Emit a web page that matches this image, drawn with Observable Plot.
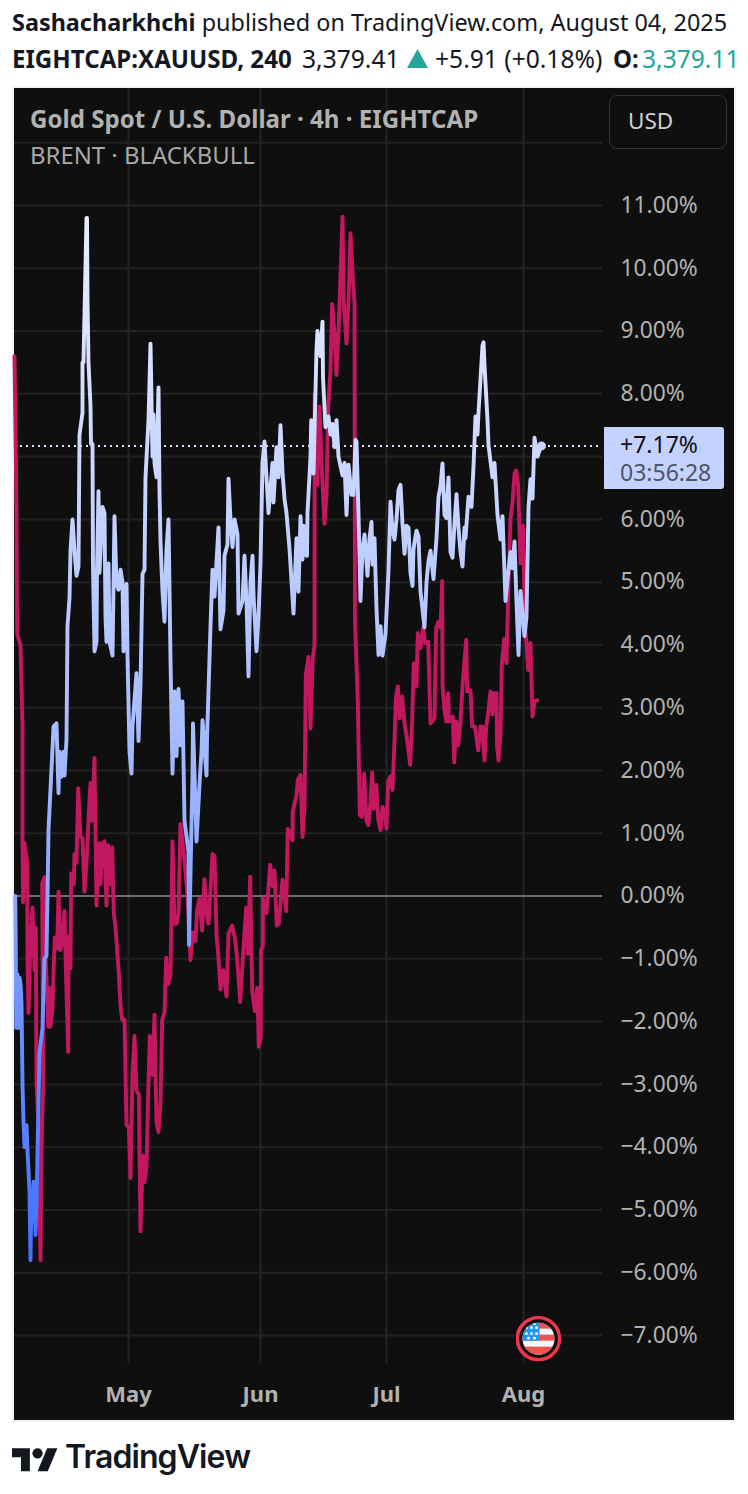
<!DOCTYPE html>
<html><head><meta charset="utf-8">
<script src="https://cdn.jsdelivr.net/npm/d3@7"></script>
<script src="https://cdn.jsdelivr.net/npm/@observablehq/plot@0.6"></script>
<style>
html,body{margin:0;padding:0;background:#fff;width:748px;height:1494px;overflow:hidden;font-family:"Noto Sans",sans-serif}
.t{position:absolute;white-space:nowrap;line-height:1;color:#131722}
#panel{position:absolute;left:12px;top:86px;width:720px;height:1332px;border:2px solid #f0f3fa;background:#0f0f0f}
#chart{position:absolute;left:14px;top:88px}
#chart svg{display:block;background:#0f0f0f}
</style></head><body>
<div class="t" style="left:12px;top:11px;font-size:23.4px"><b>Sashacharkhchi</b> published on TradingView.com, August 04, 2025</div>
<div class="t" style="left:12px;top:47px;font-size:24.1px;font-weight:700">EIGHTCAP:XAUUSD, 240</div>
<div class="t" style="left:302px;top:47px;font-size:24.6px">3,379.41</div>
<svg style="position:absolute;left:407px;top:49px" width="21" height="19"><polygon points="10.5,0 21,19 0,19" fill="#26a69a"/></svg>
<div class="t" style="left:435px;top:47px;font-size:24.6px">+5.91 (+0.18%)</div>
<div class="t" style="left:613px;top:47px;font-size:24.1px;font-weight:700">O:</div>
<div class="t" style="left:642px;top:47px;font-size:24.6px;color:#26a69a">3,379.11</div>
<div id="panel"></div>
<div id="chart"></div>
<div class="t" style="left:30px;top:107px;font-size:24.1px;font-weight:700;color:#b2b2b2">Gold Spot / U.S. Dollar · 4h · EIGHTCAP</div>
<div class="t" style="left:30px;top:143px;font-size:23.9px;color:#a8a8a8">BRENT · BLACKBULL</div>
<div class="t" style="left:609px;top:95px;width:116px;height:52px;border:1px solid #333;border-radius:8px;background:#0f0f0f;box-sizing:content-box"></div>
<div class="t" style="left:628px;top:110px;font-size:22.5px;color:#d1d1d1">USD</div>
<div class="t" style="left:604px;top:427px;width:120px;height:62px;background:#c4d2ff;border-radius:0 3px 3px 0"></div>
<div class="t" style="left:620px;top:433px;font-size:23px;color:#0f0f0f">+7.17%</div>
<div class="t" style="left:620px;top:461px;font-size:23px;color:#4f5563">03:56:28</div>
<svg style="position:absolute;left:12px;top:1448px" width="46" height="24" viewBox="0 4 36 18.5"><path fill="#131722" d="M14 22H7V11H0V4h14v18zM28 22h-8l7.5-18h8L28 22z"/><circle cx="20" cy="8" r="4" fill="#131722"/></svg>
<div class="t" style="left:65px;top:1441px;font-family:Inter,sans-serif;font-size:32px;font-weight:600;letter-spacing:-.9px">TradingView</div>
<script>
const blueBar=[0.7,1.2,1.7,3,4,5,6,7,8,9,10,12,13,15,16,17,18,19,20,21,22,25,28,30,32,33,34,36,38,39,42,44,45,47,49,50,52,53,55,56,58,60,62,64,65,68,68,69,72,72.5,73,74,76,76.5,78,78.5,80,82,82.5,84,85,88,90,91,92,94,95,98,100,102,104,106,108,109,112,113,115,117,118,122,124,126,128,130,131,134,136,138,139,140,142,144,145,146,148,150,152,154,156,158,160,162,164,166,168,170,174,174.5,178,178.5,182,185,187,188,192,192.5,194,196,198,200,204,206,209,210,213,214,216,218,220,223,224,228,230,232,234,236,238,239,242,244,246,248,250,252,254,258,259,262,264,266,268,270,272,275,279,282,284,286,288,289,292,292.5,293,296,296.7,299,302,303,306,308,308.5,311,314,316,318,320,322,324,328,330,332,334,337,339,341,342,344,346,348,350,353,355,357,358,360,362,364,366,368,371,374,376,378,380,382,384,386,388,390,392,394,396,398,399,402,404,406,408,410,412,414,416,419,422,424,426,428,430,432,434,436,438,440,442,444,446,448,450,451,454,457,459,461,463,464,468,469,470,473,474,478,480,483,486,488,491,494,496,498,500,502,504,506,508,510,512,514,516,518,520,523,527];
const bluePct=[0,-0.7,-2.1,-1.25,-2.1,-1.3,-1.4,-1.7,-3,-3.6,-4,-3.65,-4.05,-4.7,-5.8,-4.7,-5.2,-4.55,-4.6,-5.4,-4.9,-2.5,-2.1,-1,-0.95,0,1.05,1.7,2.35,2.7,2.75,1.64,2.3,1.9,2.3,1.92,2.5,4.3,4.75,5.5,6,5.5,5.1,5.25,7.35,7.7,8.5,8.5,10.8,10.8,9.5,8.5,7.8,7.2,7.2,5.25,3.9,4.05,5.2,6.45,5.15,6.2,6.1,4.45,4.05,5.3,4.05,3.83,6.05,4.97,4.88,5.2,5,3.9,4.97,3.83,2.3,1.95,2.7,3.55,2.47,3.37,5.13,5.2,6.67,7.58,8.8,7,7.67,6.9,6.67,8.1,6.45,5.65,4.85,4.37,5.53,6,3.77,1.95,3.26,2.23,3.3,2.4,3.1,1.2,0.7,-0.78,1.9,2.75,0.87,1.78,2.3,2.8,1.92,2.5,3.27,4.3,5.2,4.77,5.87,4.25,4.55,5.42,5.6,6.65,6,5.56,6,5.76,4.5,4.7,5.42,4.7,3.5,5,5.42,4.8,3.9,4.45,5.3,6.9,7.24,6.67,6.1,6.9,6.27,7.15,6.67,7.5,6.75,6.33,6.1,5.53,4.5,5.7,4.85,6.05,5.36,5.9,5.42,5.42,6.1,7,7.58,6.73,8.7,9,8.6,9.15,8.26,7.47,7.64,7.35,7.52,7.15,7.58,7,6.7,6.9,6.07,6.87,6.39,6.39,7.27,7.24,6.1,4.7,5.53,5.76,5.1,5.7,5.96,5.28,5.7,4.57,3.84,4.3,3.83,4.17,5.19,6.28,5.82,5.68,6,6.47,6.55,5.93,5.45,5.9,5.87,5.14,4.94,5.53,5.82,5.73,4.85,4.57,4.28,5,5.34,5.5,5.05,5.7,6.36,6.53,6.89,6.07,6.02,6.67,5.48,5.39,5.93,6.4,5.87,5.48,5.25,5.87,5.7,6.36,6.2,6.84,7.64,7.35,7.7,8.77,8.82,8.46,7.58,7.18,6.67,6.9,6.07,5.68,6.05,4.7,5.19,5.48,5.22,5.65,4.68,3.84,4.86,4.5,4.14,4.45,6.2,6.64,6.33,7.3,7,7.2,7.17];
const brentBar=[0,1.7,2.7,6,8,8,8.5,10,12.7,13,14,16,18,20,21.3,22,23.7,26,27.3,28.7,27.7,30,31,31.7,33.7,34.7,36,38,39.3,40.3,42.7,44,46,48,50,51,53.7,54,56,56.7,59.3,60,62,63.7,66,68,70,72,74.3,76,77.7,80,82,85,86,88,90,92,93.7,95.5,97.7,99.3,101,104.3,106,107.7,110,110.5,112,114.3,116,118,120,122,124.3,126,128.3,130,132,133.7,135.3,138,140,142,144,146,147.7,150,151.7,153.7,156,158,160,162,164,166,168.7,171,173,176,178.3,181,182.7,185,187.7,190,192,194,196,198,200,202,203.7,206,208.7,212,214,217.7,220.3,222.7,225.7,228.3,231.7,233.3,235.7,237.7,240.3,242.7,244.3,246.3,246.5,248.3,248.5,252,255.7,258,260,262.3,264.3,268,271.7,273.3,278,278.2,280,282,283.3,286,288,290,291.3,294,296,298.3,300,300.2,302.7,305,307.7,310,312,313.7,316,317.7,320,322,324.3,328,329.3,332,334.3,336,338.3,340,340.5,343.3,345.3,347.5,349.7,352,354,355.5,357.7,359.3,361.7,363.7,366,368,370,372,373.7,376,378,380,381.3,383.3,385.3,387.7,390,392,395.7,397.7,399.3,402,403.3,406,408.7,410.5,413.7,416,420,421.7,424,426,427.7,428,430,431.7,433.7,434.5,438.3,439.7,441.7,443.7,446,448.3,451.7,452.7,456,457.7,460.5,463.7,466,467.7,470,471.7,473.3,476,478,479.3,482,482.5,484,486,487.3,489.7,492,494,496,498,500,501.7,503.7,506,508.3,511,512,513.7,516,518,520,522.7];
const brentPct=[8.6,6.55,4.17,4,2.7,0.87,-0.1,0.84,0.53,-0.95,-1.86,-0.72,-0.18,-1.18,-0.5,-3,-3.5,-5.8,-3.8,-3,0.2,0.3,-0.95,-1.18,-2.08,-1.46,-2.08,-1.8,-1.09,-0.66,-0.84,0.07,-0.86,-0.66,-0.24,-0.95,-2.48,-0.64,-1.15,0.36,0.19,0.67,0.53,1.72,0.95,0.92,0.07,0.53,1.32,1.8,1.2,2.2,-0.15,0.84,0.19,0.84,0.87,-0.15,0.81,0.19,0.78,-0.27,-0.5,-1.23,-1.74,-1.97,-1.97,-2.37,-3.65,-3.68,-4.49,-2.82,-2.23,-3.1,-3.16,-5.34,-4.13,-4.56,-4.3,-3.14,-2.23,-2.85,-1.89,-3.6,-3.76,-3.3,-1.97,-1.86,-0.98,-1.4,-1.26,0.87,-0.44,-0.44,-0.27,1.15,0.76,0.39,0.02,-1.02,-0.58,-0.72,-0.21,-0.04,-0.55,0.27,-0.27,-0.44,0.1,0.67,0.64,-0.6,-0.92,-1.49,-1.18,-1.6,-0.6,-0.47,-0.66,-1,-1.69,-1,-0.18,-0.92,0.31,-1.52,-1.83,-1.46,-2.4,-2.23,-0.86,-0.81,-0.04,-0.27,0.5,0.16,0.41,-0.47,-0.44,0.26,-0.24,1.07,0.89,1.34,1.47,1.6,1.85,1.93,0.94,1.39,3.52,3.81,2.67,3.79,4,8,6.55,7.8,6.67,5.93,6.39,7.8,8.37,9.43,8.94,8.3,9.1,10.82,9.45,8.8,9.57,10.56,9.85,9.45,4.4,3.1,1.29,1.26,1.95,1.2,1.13,1.39,1.97,1.39,1.77,1.23,1.05,1.42,1.34,1.07,1.82,1.91,1.69,2.46,3.15,3.34,2.83,3.18,2.75,2.56,2.09,2.83,3.71,3.34,4.19,3.95,4.29,4.03,4.05,2.75,2.83,4.27,4.37,4.27,5.02,3.36,2.96,2.78,3.23,2.78,2.86,2.13,2.78,2.4,2.78,3.41,4.08,3.26,3.28,2.7,2.7,2.32,2.7,2.7,2.16,2.7,2.86,3.26,2.89,3.23,3.23,2.4,2.16,2.56,3.68,4.1,3.71,4.97,6,6.27,6.73,6.78,6.53,5.3,5.9,4.17,4.03,3.6,4.03,2.86,3.1,3.12];
const pctTicks=[11,10,9,8,6,5,4,3,2,1,0,-1,-2,-3,-4,-5,-6,-7];
const gridLevels=[12,7,...pctTicks];
const monthBars=[114,246,372,509];
const monthLabels=["May","Jun","Jul","Aug"];
const lastBar=[527], lastPct=[7.17];
const blueStops=[[0,"#eaefff"],[0.3,"#c2d1ff"],[0.5,"#a5bbff"],[0.65,"#8aa7ff"],[0.8,"#648aff"],[1,"#3f6fff"]];
const flagSvg="data:image/svg+xml,"+encodeURIComponent(`<svg xmlns="http://www.w3.org/2000/svg" viewBox="0 0 46 46"><defs><clipPath id="c"><circle cx="23" cy="23" r="16"/></clipPath></defs><circle cx="22.5" cy="23" r="21.5" fill="none" stroke="#9c27b0" stroke-width="2"/><circle cx="23" cy="23" r="21" fill="#0f0f0f" stroke="#f23645" stroke-width="3.4"/><g clip-path="url(#c)"><rect x="5" y="5" width="36" height="36" fill="#f7f7f7"/><rect x="5" y="7" width="36" height="6" fill="#ef5350"/><rect x="5" y="19" width="36" height="6" fill="#ef5350"/><rect x="5" y="31" width="36" height="9" fill="#ef5350"/><rect x="5" y="5" width="19" height="20" fill="#2196f3"/><g fill="#fff"><circle cx="11" cy="12" r="1.4"/><circle cx="16" cy="12" r="1.4"/><circle cx="21" cy="12" r="1.4"/><circle cx="11" cy="18" r="1.4"/><circle cx="16" cy="18" r="1.4"/><circle cx="21" cy="18" r="1.4"/><circle cx="13" cy="8" r="1.4"/><circle cx="19" cy="8" r="1.4"/><circle cx="13" cy="22.5" r="1.4"/><circle cx="19" cy="22.5" r="1.4"/></g></g></svg>`);

const toRows=(bars,pcts)=>bars.map((b,i)=>({bar:b,pct:pcts[i]}));
const blueRows=toRows(blueBar,bluePct), brentRows=toRows(brentBar,brentPct);
const axisFont={fontSize:22.8,fontFamily:"Noto Sans"};

const gradient=(index,{y})=>{
  const defs=d3.create("svg:defs");
  const g=defs.append("linearGradient").attr("id","blueGrad").attr("gradientUnits","userSpaceOnUse")
    .attr("x1",0).attr("x2",0).attr("y1",y(11)).attr("y2",y(-6));
  blueStops.forEach(([o,c])=>g.append("stop").attr("offset",o).attr("stop-color",c));
  return defs.node();
};

const plot=Plot.plot({
  width:720,height:1332,marginTop:0,marginLeft:0,marginRight:132,marginBottom:57,
  style:{background:"#0f0f0f",overflow:"visible"},
  x:{type:"linear",domain:[0,588],range:[0,588]},
  y:{type:"linear",domain:[-7,11],range:[1247,117]},
  marks:[
    gradient,
    Plot.gridX(monthBars,{stroke:"#242424",strokeOpacity:1,strokeWidth:2}),
    Plot.gridY(gridLevels,{stroke:"#222222",strokeOpacity:1,strokeWidth:2}),
    Plot.ruleY([0],{stroke:"#6f6f6f",strokeWidth:2}),
    Plot.ruleY(lastPct,{stroke:"#d6e0ff",strokeWidth:2,strokeDasharray:"2 4"}),
    Plot.line(brentRows,{x:"bar",y:"pct",stroke:"#c2185f",strokeWidth:3.9}),
    Plot.line(blueRows,{x:"bar",y:"pct",stroke:"url(#blueGrad)",strokeWidth:3.9}),
    Plot.dot(lastBar.map((b,i)=>({bar:b,pct:lastPct[i]})),{x:"bar",y:"pct",r:4.5,fill:"#c6d4ff"}),
    Plot.image([{bar:524,pct:-7.05}],{x:"bar",y:"pct",src:()=>flagSvg,width:46,height:46}),
    Plot.axisY(pctTicks,{anchor:"right",tickSize:0,tickPadding:18,label:null,
      tickFormat:d=>(d<0?"−":"")+Math.abs(d).toFixed(2)+"%",textAnchor:"start",fill:"#b2b2b2",...axisFont}),
    Plot.axisX(monthBars,{anchor:"bottom",tickSize:0,tickPadding:23,label:null,
      tickFormat:d=>monthLabels[monthBars.indexOf(d)],fill:"#b2b2b2",fontWeight:700,fontSize:22,fontFamily:"Noto Sans"})
  ]
});
document.getElementById("chart").appendChild(plot);
</script>
</body></html>
